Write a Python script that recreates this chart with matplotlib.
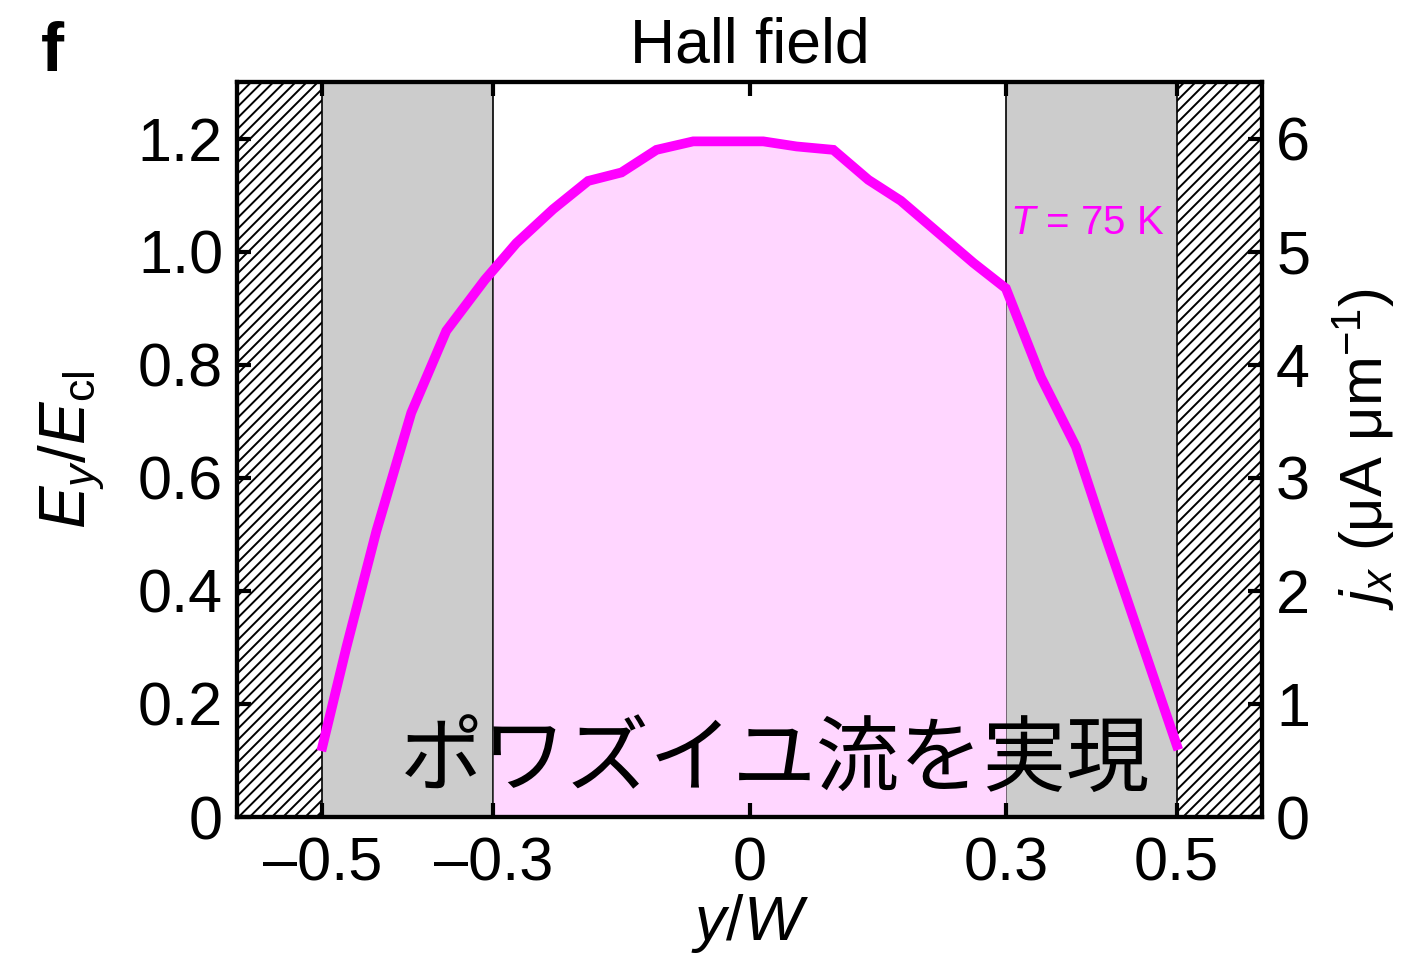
import matplotlib
matplotlib.use('Agg')
import matplotlib.pyplot as plt
import numpy as np

# y/W positions and Hall field E_y/E_cl
y_pos = [-0.50, -0.472, -0.437, -0.396, -0.355, -0.31, -0.273, -0.23, -0.189,
         -0.15, -0.109, -0.066, 0.016, 0.055, 0.098, 0.139, 0.177, 0.262,
         0.30, 0.341, 0.382, 0.417, 0.50]
e_field = [0.125, 0.30, 0.505, 0.715, 0.86, 0.95, 1.015, 1.075, 1.125,
           1.14, 1.18, 1.195, 1.195, 1.186, 1.18, 1.127, 1.09, 0.98,
           0.935, 0.778, 0.655, 0.495, 0.127]

x_ticks = [-0.5, -0.3, 0, 0.3, 0.5]
x_ticklabels = ['\u20130.5', '\u20130.3', '0', '0.3', '0.5']
left_ticks = [0, 0.2, 0.4, 0.6, 0.8, 1.0, 1.2]
left_ticklabels = ['0', '0.2', '0.4', '0.6', '0.8', '1.0', '1.2']
right_ticks = [0, 1, 2, 3, 4, 5, 6]

plt.rcParams['font.family'] = ['Liberation Sans', 'Noto Sans CJK JP', 'DejaVu Sans']
plt.rcParams['mathtext.fontset'] = 'custom'
plt.rcParams['mathtext.rm'] = 'Liberation Sans'
plt.rcParams['mathtext.it'] = 'Liberation Sans:italic'
plt.rcParams['hatch.linewidth'] = 1.4

MAGENTA = '#ff00ff'
PINK = '#ffd6ff'
GRAY = '#cccccc'

fig = plt.figure(figsize=(14.15, 9.59), dpi=100)
ax = fig.add_axes([0.1675, 0.148, 0.7245, 0.7665])

# side regions: hatched contacts, gray edge strips
ax.axvspan(-0.6, -0.5, facecolor='white', edgecolor='black', hatch='///', lw=0, zorder=0)
ax.axvspan(0.5, 0.6, facecolor='white', edgecolor='black', hatch='///', lw=0, zorder=0)
ax.axvspan(-0.5, -0.3, facecolor=GRAY, lw=0, zorder=0)
ax.axvspan(0.3, 0.5, facecolor=GRAY, lw=0, zorder=0)
for xv in (-0.5, -0.3, 0.3, 0.5):
    ax.axvline(xv, color='black', lw=1.2, zorder=1)

# pink fill under the curve in the channel centre
yy = np.array(y_pos)
ee = np.array(e_field)
mask = (yy >= -0.3) & (yy <= 0.3)
xf = np.concatenate([[-0.3], yy[mask], [0.3]])
ef = np.interp(xf, yy, ee)
ax.fill_between(xf, 0, ef, color=PINK, lw=0, zorder=1)

ax.plot(y_pos, e_field, color=MAGENTA, lw=7, zorder=3, solid_joinstyle='miter')

ax.set_xlim(-0.6, 0.6)
ax.set_ylim(0, 1.3)
ax.set_xticks(x_ticks)
ax.set_xticklabels(x_ticklabels)
ax.set_yticks(left_ticks)
ax.set_yticklabels(left_ticklabels)
ax.tick_params(direction='in', length=10, width=3, labelsize=44, top=True, pad=10)
ax.tick_params(axis='x', pad=14)
for sp in ax.spines.values():
    sp.set_linewidth(3)

ax.set_ylabel('$E_y/E_{\\rm cl}$', fontsize=46, labelpad=22)
ax.set_xlabel('$y/W$', fontsize=45, labelpad=-1)
ax.set_title('Hall field', fontsize=45, pad=14)

ax2 = ax.twinx()
ax2.set_ylim(0, 6.5)
ax2.set_yticks(right_ticks)
ax2.tick_params(direction='in', length=10, width=3, labelsize=44, pad=10)
for sp in ax2.spines.values():
    sp.set_linewidth(3)
ax2.set_ylabel('$j_x$ (\u03bcA \u03bcm$^{-1}$)', fontsize=43, labelpad=14)

ax.text(0.486, 1.05, '$T$ = 75 K', color=MAGENTA, fontsize=29,
        ha='right', va='center', zorder=4)
ax.text(0.03, 0.10, 'ポワズイユ流を実現', fontsize=60, color='black',
        family=['Noto Sans CJK JP'], ha='center', va='center', zorder=4)

fig.text(0.037, 0.945, 'f', fontsize=50, fontweight='bold', ha='center', va='center')

fig.savefig('out.png', dpi=100)
